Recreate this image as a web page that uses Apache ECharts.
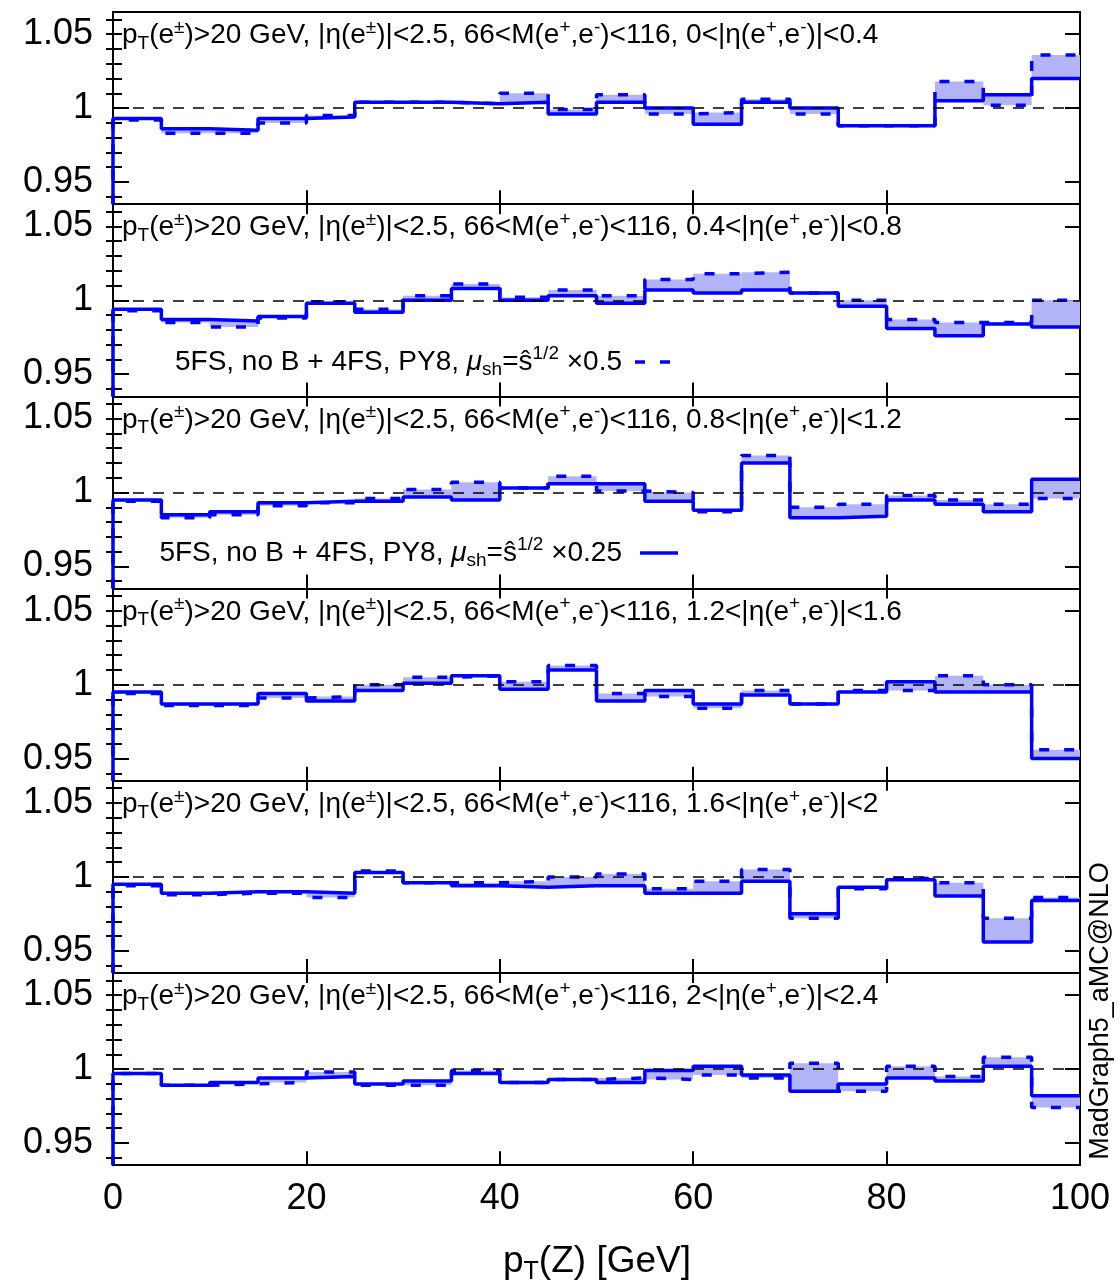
<!DOCTYPE html>
<html>
<head>
<meta charset="utf-8">
<script src="https://cdn.jsdelivr.net/npm/echarts@6/dist/echarts.min.js"></script>
<style>
  html, body { margin: 0; padding: 0; background: #fff; }
  #chart { width: 1120px; height: 1284px; }
</style>
</head>
<body>
<div id="chart"></div>
<script>
// pT(Z) bin edges [GeV]
const binEdges = [0, 5, 10, 15, 20, 25, 30, 35, 40, 45, 50, 55, 60, 65, 70, 75, 80, 85, 90, 95, 100];
const xTicks = [0, 20, 40, 60, 80, 100];
const yMajorTicks = [0.95, 1, 1.05];
const yMinorTicks = [0.94, 0.96, 0.97, 0.98, 0.99, 1.01, 1.02, 1.03, 1.04, 1.05, 1.06];
const etaEdges = ['0', '0.4', '0.8', '1.2', '1.6', '2', '2.4'];

// mu_sh = shat^1/2 x 0.25 (solid)
const mu025_eta1 = [0.993, 0.986, 0.985, 0.993, 0.994, 1.004, 1.004, 1.003, 1.004, 0.996, 1.004, 1.000, 0.989, 1.004, 1.000, 0.988, 0.988, 1.005, 1.009, 1.020];
const mu025_eta2 = [0.994, 0.987, 0.986, 0.989, 0.998, 0.992, 1.000, 1.008, 1.000, 1.003, 0.998, 1.007, 1.005, 1.007, 1.005, 0.996, 0.981, 0.976, 0.984, 0.982];
const mu025_eta3 = [0.995, 0.985, 0.987, 0.993, 0.994, 0.994, 0.997, 0.995, 1.003, 1.006, 1.006, 0.994, 0.988, 1.020, 0.983, 0.984, 0.995, 0.992, 0.987, 1.009];
const mu025_eta4 = [0.995, 0.987, 0.987, 0.994, 0.989, 0.996, 1.001, 1.006, 0.997, 1.010, 0.989, 0.996, 0.987, 0.993, 0.987, 0.995, 1.002, 0.995, 0.995, 0.950];
const mu025_eta5 = [0.995, 0.989, 0.990, 0.990, 0.989, 1.003, 0.996, 0.994, 0.993, 0.994, 0.994, 0.989, 0.989, 0.997, 0.975, 0.993, 0.998, 0.987, 0.956, 0.984];
const mu025_eta6 = [0.997, 0.989, 0.991, 0.994, 0.995, 0.990, 0.992, 0.997, 0.991, 0.993, 0.991, 0.999, 1.002, 0.996, 0.985, 0.990, 0.994, 0.992, 1.002, 0.982];

// mu_sh = shat^1/2 x 0.5 (dashed)
const mu05_eta1 = [0.992, 0.983, 0.983, 0.990, 0.995, 1.004, 1.004, 1.003, 1.010, 0.999, 1.009, 0.996, 0.997, 1.006, 0.996, 0.988, 0.988, 1.018, 1.002, 1.036];
const mu05_eta2 = [0.993, 0.985, 0.982, 0.988, 0.999, 0.994, 1.003, 1.011, 1.002, 1.007, 1.003, 1.014, 1.018, 1.019, 1.005, 1.000, 0.987, 0.985, 0.985, 1.000];
const mu05_eta3 = [0.994, 0.983, 0.985, 0.991, 0.993, 0.996, 1.002, 1.007, 1.003, 1.011, 1.001, 1.000, 0.987, 1.025, 0.990, 0.992, 0.998, 0.995, 0.992, 0.996];
const mu05_eta4 = [0.994, 0.986, 0.986, 0.991, 0.992, 1.000, 1.005, 1.006, 1.002, 1.013, 0.994, 0.992, 0.984, 0.996, 0.987, 0.996, 0.996, 1.006, 1.000, 0.956];
const mu05_eta5 = [0.994, 0.988, 0.989, 0.989, 0.986, 1.004, 0.996, 0.996, 0.997, 1.000, 1.002, 0.992, 0.997, 1.005, 0.972, 0.992, 0.999, 0.996, 0.972, 0.986];
const mu05_eta6 = [0.997, 0.989, 0.990, 0.991, 0.998, 0.989, 0.989, 0.999, 0.991, 0.993, 0.994, 0.993, 0.996, 0.994, 1.004, 0.985, 1.002, 0.995, 1.008, 0.974];

const solidSets = [mu025_eta1, mu025_eta2, mu025_eta3, mu025_eta4, mu025_eta5, mu025_eta6];
const dashedSets = [mu05_eta1, mu05_eta2, mu05_eta3, mu05_eta4, mu05_eta5, mu05_eta6];

const yMin = 0.935, yMax = 1.065;
const panelTop = 12, panelH = 192.2;
const font = "'Liberation Sans', Arial, Helvetica, sans-serif";
const blue = '#0000ff';
const bandColor = '#b3b3f7';
const dashPattern = [10, 15];

// histogram outline: start at bottom of x=0 edge, then one step per bin
function stepPoints(vals) {
  const pts = [[binEdges[0], yMin]];
  for (let k = 0; k < vals.length; k++) pts.push([binEdges[k], vals[k]]);
  pts.push([binEdges[vals.length], vals[vals.length - 1]]);
  return pts;
}
function bandCells(a, b) {
  return a.map((v, k) => [binEdges[k], binEdges[k + 1], Math.min(v, b[k]), Math.max(v, b[k])]);
}

const subSup = {
  sub: { fontSize: 19, lineHeight: 19, verticalAlign: 'bottom' },
  sup: { fontSize: 19, lineHeight: 19, verticalAlign: 'top' },
  mu: { fontSize: 28, lineHeight: 35, fontStyle: 'italic' }
};

const grids = [], xAxes = [], yAxes = [], series = [], graphics = [];

for (let i = 0; i < 6; i++) {
  const top = panelTop + panelH * i;
  grids.push({ left: 113, right: 40, top: top, height: panelH, outerBoundsMode: 'none' });

  // bottom x axis
  xAxes.push({
    gridIndex: i, type: 'value', min: 0, max: 100, interval: 20, position: 'bottom',
    axisLine: { show: true, onZero: false, lineStyle: { color: '#000', width: 2 } },
    axisTick: { show: true, inside: true, length: 14, lineStyle: { color: '#000', width: 2 } },
    axisLabel: { show: i === 5, fontSize: 36, color: '#000', margin: 16, fontFamily: font },
    splitLine: { show: false }
  });
  // top x axis (mirror ticks)
  xAxes.push({
    gridIndex: i, type: 'value', min: 0, max: 100, interval: 20, position: 'top',
    axisLine: { show: true, onZero: false, lineStyle: { color: '#000', width: 2 } },
    axisTick: { show: i > 0, inside: true, length: 10, lineStyle: { color: '#000', width: 2 } },
    axisLabel: { show: false },
    splitLine: { show: false }
  });

  const yBase = { gridIndex: i, type: 'value', min: yMin, max: yMax, splitLine: { show: false } };
  yAxes.push(Object.assign({}, yBase, {
    position: 'left',
    axisLine: { show: true, onZero: false, lineStyle: { color: '#000', width: 2 } },
    axisTick: { show: true, inside: true, length: 16, customValues: [0.95, 1], lineStyle: { color: '#000', width: 2 } },
    axisLabel: { show: true, customValues: yMajorTicks, fontSize: 36, color: '#000', margin: 20, fontFamily: font }
  }));
  yAxes.push(Object.assign({}, yBase, {
    position: 'left',
    axisLine: { show: false },
    axisTick: { show: true, inside: true, length: 9, customValues: yMinorTicks, lineStyle: { color: '#000', width: 2 } },
    axisLabel: { show: false }
  }));
  yAxes.push(Object.assign({}, yBase, {
    position: 'right',
    axisLine: { show: true, onZero: false, lineStyle: { color: '#000', width: 2 } },
    axisTick: { show: true, inside: true, length: 15, customValues: yMajorTicks, lineStyle: { color: '#000', width: 2 } },
    axisLabel: { show: false }
  }));
  yAxes.push(Object.assign({}, yBase, {
    position: 'right',
    axisLine: { show: false },
    axisTick: { show: true, inside: true, length: 7, customValues: yMinorTicks, lineStyle: { color: '#000', width: 2 } },
    axisLabel: { show: false }
  }));

  const xi = 2 * i, yi = 4 * i;
  series.push({
    type: 'custom', xAxisIndex: xi, yAxisIndex: yi, z: 1, silent: true,
    data: bandCells(solidSets[i], dashedSets[i]),
    encode: { x: [0, 1], y: [2, 3] },
    renderItem: function (params, api) {
      const p0 = api.coord([api.value(0), api.value(3)]);
      const p1 = api.coord([api.value(1), api.value(2)]);
      return {
        type: 'rect',
        shape: { x: p0[0], y: p0[1], width: p1[0] - p0[0], height: p1[1] - p0[1] },
        style: { fill: bandColor }
      };
    }
  });
  series.push({
    name: 'x0.5', type: 'line', step: 'end', xAxisIndex: xi, yAxisIndex: yi, z: 3,
    symbol: 'none', silent: true,
    lineStyle: { color: blue, width: 3.5, type: dashPattern },
    data: stepPoints(dashedSets[i])
  });
  series.push({
    name: 'x0.25', type: 'line', step: 'end', xAxisIndex: xi, yAxisIndex: yi, z: 4,
    symbol: 'none', silent: true,
    lineStyle: { color: blue, width: 3.5 },
    data: stepPoints(solidSets[i]),
    markLine: {
      silent: true, symbol: 'none', label: { show: false },
      lineStyle: { color: '#000', width: 1.5, type: [11, 9] },
      data: [{ yAxis: 1 }]
    }
  });

  const lo = etaEdges[i], hi = etaEdges[i + 1];
  graphics.push({
    type: 'text', x: 122, y: top + 23.5, z: 10,
    style: {
      text: 'p{sub|T}(e{sup|±})>20 GeV, |η(e{sup|±})|<2.5, 66<M(e{sup|+},e{sup|-})<116, ' +
        lo + '<|η(e{sup|+},e{sup|-})|<' + hi,
      fontSize: 28, lineHeight: 35, fontFamily: font, fill: '#000',
      textAlign: 'left', textVerticalAlign: 'middle', rich: subSup
    }
  });
}

// legend entries (text + line key)
const legendEntries = [
  { text: '5FS, no B + 4FS, PY8, {mu|μ}{sub|sh}=ŝ{sup|1/2} ×0.5', y: 362, x1: 635, x2: 675, dash: dashPattern },
  { text: '5FS, no B + 4FS, PY8, {mu|μ}{sub|sh}=ŝ{sup|1/2} ×0.25', y: 553, x1: 640, x2: 678, dash: null }
];
legendEntries.forEach(function (e) {
  graphics.push({
    type: 'text', x: 622, y: e.y, z: 10,
    style: {
      text: e.text, fontSize: 28, lineHeight: 35, fontFamily: font, fill: '#000',
      textAlign: 'right', textVerticalAlign: 'middle', rich: subSup
    }
  });
  graphics.push({
    type: 'line', z: 10,
    shape: { x1: e.x1, y1: e.y, x2: e.x2, y2: e.y },
    style: { stroke: blue, lineWidth: 3.5, lineDash: e.dash }
  });
});

// axis title and generator tag
graphics.push({
  type: 'text', x: 597, y: 1262,
  style: {
    text: 'p{s|T}(Z) [GeV]', fontSize: 37, lineHeight: 46, fontFamily: font, fill: '#000',
    textAlign: 'center', textVerticalAlign: 'middle',
    rich: { s: { fontSize: 25, lineHeight: 22, verticalAlign: 'bottom' } }
  }
});
graphics.push({
  type: 'text', x: 1101, y: 1011, rotation: Math.PI / 2,
  style: {
    text: 'MadGraph5_aMC@NLO', fontSize: 27, fontFamily: font, fill: '#000',
    textAlign: 'center', textVerticalAlign: 'middle'
  }
});

const chart = echarts.init(document.getElementById('chart'));
chart.setOption({
  animation: false,
  backgroundColor: '#fff',
  textStyle: { fontFamily: font },
  grid: grids,
  xAxis: xAxes,
  yAxis: yAxes,
  series: series,
  graphic: graphics
});
</script>
</body>
</html>
